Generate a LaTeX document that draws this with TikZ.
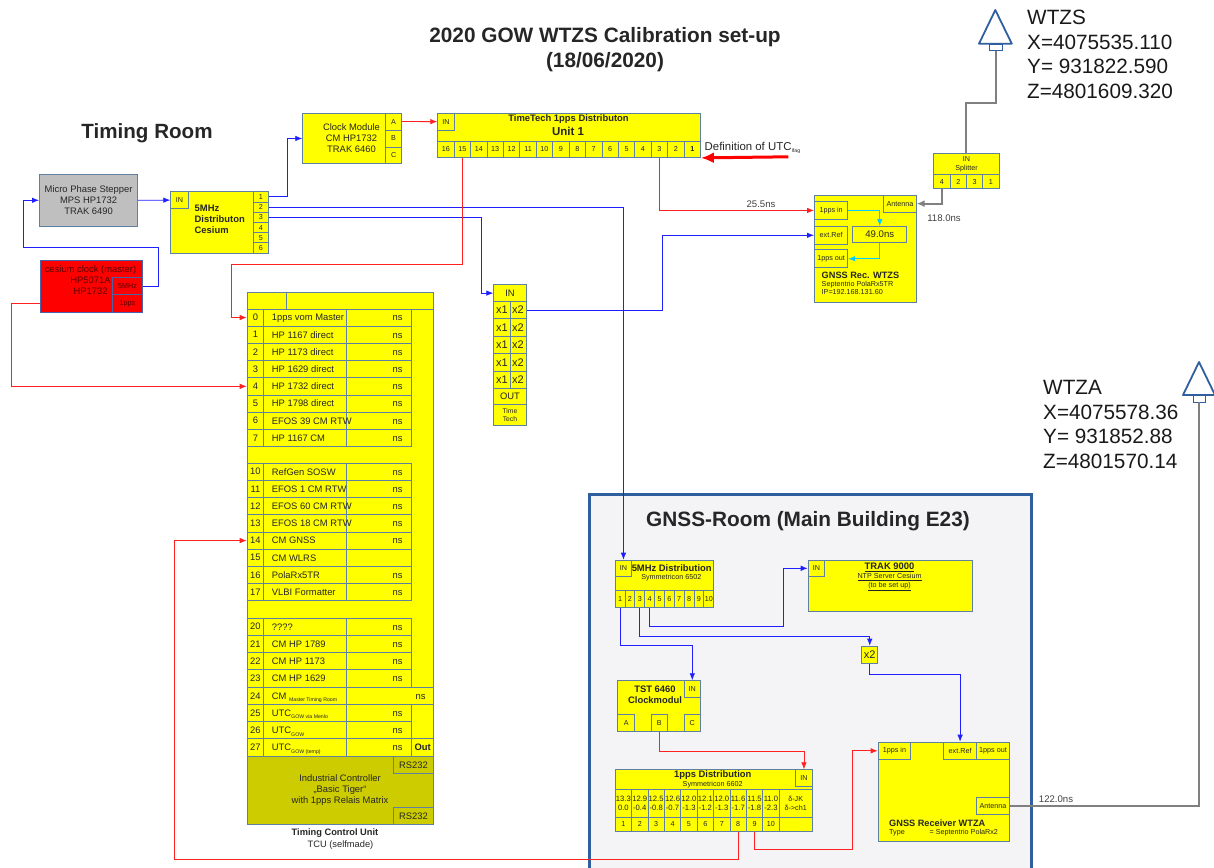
\documentclass[tikz,border=0pt]{standalone}
\usepackage{fontspec}
\setmainfont{Liberation Sans}
\usetikzlibrary{arrows.meta}
\definecolor{edgeblue}{HTML}{5E80A2}
\definecolor{cesedge}{HTML}{4A62A8}
\definecolor{roomblue}{HTML}{2F5F9F}
\definecolor{roomfill}{HTML}{F4F4F7}
\definecolor{ctrlfill}{HTML}{CCCC00}
\definecolor{boxyellow}{HTML}{FFFF00}
\definecolor{lineblue}{HTML}{2020FF}
\definecolor{linered}{HTML}{FF2020}
\definecolor{linegray}{HTML}{808080}
\definecolor{linecyan}{HTML}{00CCFF}
\tikzstyle{block}=[draw=edgeblue, fill=boxyellow, line width=0.9pt, inner sep=0pt, align=center, text=black!85]
\tikzstyle{txt}=[inner sep=0pt, align=center, text=black!85]
\tikzstyle{left txt}=[txt, align=left, anchor=west]
\tikzstyle{row txt}=[text height=7pt, text depth=2pt, yshift=-1.3pt]
\tikzstyle{ft7}=[font=\fontsize{6.8}{8}\selectfont]
\tikzstyle{ft8}=[font=\fontsize{7.2}{8.6}\selectfont]
\tikzstyle{ftval}=[font=\fontsize{7.7}{9.6}\selectfont]
\tikzstyle{ft9}=[font=\fontsize{9.3}{10}\selectfont]
\tikzstyle{ft10}=[font=\fontsize{9.4}{11}\selectfont]
\tikzstyle{ftlag}=[font=\fontsize{9.6}{11}\selectfont]
\tikzstyle{ftx}=[font=\fontsize{11}{12}\selectfont]
\tikzstyle{hd10}=[font=\fontsize{9.4}{11.3}\selectfont\bfseries]
\tikzstyle{coord}=[txt, align=left, anchor=north west, font=\fontsize{20.7}{24.6}\selectfont, text=black!90]
\tikzstyle{bl}=[-{Latex[length=7pt,width=5.5pt]}, lineblue, line width=0.8pt]
\tikzstyle{rd}=[-{Latex[length=7pt,width=5.5pt]}, linered, line width=0.8pt]
\tikzstyle{gy}=[linegray, line width=2pt]
\tikzstyle{cy}=[-{Latex[length=7pt,width=5.5pt]}, linecyan, line width=0.8pt]
\newcommand{\blk}[6][]{\node[block,#1,anchor=north west,minimum width={#4-#2},minimum height={#5-#3}] (#6) at (#2,#3) {};}
\newcommand{\cel}[7][]{\node[block,ft8,#1,anchor=north west,minimum width={#4-#2},minimum height={#5-#3}] (#6) at (#2,#3) {#7};}
\newcommand{\lowtxt}[1]{\raisebox{-2.5pt}{\fontsize{5.2}{6}\selectfont #1}}

\begin{document}
\begin{tikzpicture}[x=1pt,y=-1pt]
  \useasboundingbox (0,0) rectangle (1214,867);
  \draw[roomblue, line width=3pt, fill=roomfill] (589,494) rectangle (1031,890);

  \node[txt, font=\fontsize{20.8}{25}\selectfont\bfseries] (title) at (605,49.5) {2020 GOW WTZS Calibration set-up\\(18/06/2020)};
  \node[txt, font=\fontsize{20.6}{24}\selectfont\bfseries] (timing) at (147,133.5) {Timing Room};
  \node[txt, font=\fontsize{20.8}{24}\selectfont\bfseries] (gnssroom) at (808,521.5) {GNSS-Room (Main Building E23)};

  \cel[fill=black!25,ft10]{39}{174}{137.3}{225.7}{mps}{Micro Phase Stepper\\MPS HP1732\\TRAK 6490}

  \cel[fill=red,draw=cesedge,ft10,text=red!35!black]{39.7}{260}{141.7}{312}{ces}{}
  \node[txt, ft10, text=red!35!black] (cestext) at (90.5,280.5) {cesium clock (master)\\HP5071A\\HP1732};
  \cel[fill=red,draw=cesedge,text=red!35!black]{112.3}{277}{141.7}{294.3}{c5}{5MHz}
  \cel[fill=red,draw=cesedge,text=red!35!black]{112.3}{294.3}{141.7}{312}{c1}{1pps}

  \blk{170.3}{191.3}{268.3}{252.7}{dist}
  \cel{170.3}{191.3}{187.5}{208}{din}{IN}
  \node[left txt, hd10] (disttext) at (194.5,219.5) {5MHz\\Distributon\\Cesium};
  \foreach \i in {1,...,6} {
    \pgfmathsetmacro{\ya}{191.3+(\i-1)*10.23}
    \pgfmathsetmacro{\yb}{\ya+10.23}
    \cel{252.5}{\ya}{268.3}{\yb}{d\i}{\i}
  }

  \blk{302.3}{112.7}{401.3}{163.3}{clk}
  \node[txt, ft10] (clktext) at (351.5,138) {Clock Module\\CM  HP1732\\TRAK 6460};
  \cel{385}{112.7}{401.3}{129.5}{ka}{A}
  \cel{385}{129.5}{401.3}{146.5}{kb}{B}
  \cel{385}{146.5}{401.3}{163.3}{kc}{C}

  \blk{437.3}{112.7}{700}{157}{tt}
  \cel{437.3}{112.7}{453.7}{129.7}{tin}{IN}
  \node[txt, hd10] (tttext) at (568.5,119.5) {TimeTech 1pps Distributon};
  \node[txt, font=\fontsize{11.5}{13}\selectfont\bfseries] (ttunit) at (568,131) {Unit 1};
  \foreach \i in {16,15,...,1} {
    \pgfmathsetmacro{\xa}{437.3+(16-\i)*16.419}
    \pgfmathsetmacro{\xb}{\xa+16.419}
    \cel{\xa}{140.7}{\xb}{157}{t\i}{\ifnum\i=1 \bfseries\fi\i}
  }
  \node[left txt, font=\fontsize{11.4}{13}\selectfont] (defutc) at (704.5,148) {Definition of UTC\lowtxt{Ifag}};
  \coordinate (defend) at (788.3,156.8);
  \draw[-{Latex[length=13pt,width=11pt]}, red, line width=3pt] (defend) -- (tt.south east);

  \blk{246.7}{291.7}{433.3}{755.7}{tcu}
  \blk{246.7}{291.7}{286}{308.5}{tcua}
  \blk{286}{291.7}{433.3}{308.5}{tcub}
  \foreach \y/\i/\t/\v in {308.5/0/1pps vom Master/ns,325.7/1/HP 1167 direct/ns,342.9/2/HP 1173 direct/ns,360.1/3/HP 1629 direct/ns,377.3/4/HP 1732 direct/ns,394.5/5/HP 1798 direct/ns,411.7/6/EFOS 39 CM RTW/ns,428.9/7/HP 1167 CM/ns,
    462.7/10/RefGen SOSW/ns,479.9/11/EFOS 1 CM RTW/ns,497.1/12/EFOS 60 CM RTW/ns,514.3/13/EFOS 18 CM RTW/ns,531.5/14/CM  GNSS/ns,548.7/15/CM  WLRS/,565.9/16/PolaRx5TR/ns,583.1/17/VLBI Formatter/ns,
    617.7/20/????/ns,634.9/21/CM  HP 1789/ns,652.1/22/CM  HP 1173/ns,669.3/23/CM  HP 1629/ns,
    703.9/25/UTC\lowtxt{GOW via Menlo}/ns,721.1/26/UTC\lowtxt{GOW}/ns,738.3/27/UTC\lowtxt{GOW (temp)}/ns} {
    \cel[ft10]{246.7}{\y}{263.3}{\y+17.2}{r\i}{\i}
    \blk{263.3}{\y}{345.7}{\y+17.2}{n\i}
    \blk{345.7}{\y}{411}{\y+17.2}{v\i}
    \node[left txt, row txt, ft10] (l\i) at (271.7,\y+8.6) {\t};
    \node[txt, row txt, ft10] (m\i) at (397.7,\y+8.6) {\v};
  }
  \cel[ft10]{246.7}{686.7}{263.3}{703.9}{r24}{24}
  \blk{263.3}{686.7}{345.7}{703.9}{n24}
  \blk{345.7}{686.7}{433.3}{703.9}{v24}
  \node[left txt, row txt, ft10] (l24) at (271.7,695.3) {CM \lowtxt{Master Timing Room}};
  \node[txt, row txt, ft10] (m24) at (420.5,695.3) {ns};
  \cel[font=\fontsize{9.4}{11}\selectfont\bfseries]{411}{738.3}{433.3}{755.7}{tout}{Out}
  \blk[fill=ctrlfill]{246.7}{755.7}{433.3}{824.3}{ctrl}
  \cel[fill=ctrlfill,ft10]{392.7}{755.7}{433.3}{773.3}{rsa}{RS232}
  \cel[fill=ctrlfill,ft10]{392.7}{806.7}{433.3}{824.3}{rsb}{RS232}
  \node[txt, ft10] (ctrltext) at (340,790) {Industrial Controller\\„Basic Tiger“\\with 1pps Relais Matrix};
  \node[txt, font=\fontsize{9.3}{10}\selectfont\bfseries] (tcutext) at (335,833.5) {Timing Control Unit};
  \node[txt, ft9] (tcusub) at (340.5,845) {TCU (selfmade)};

  \cel[ft10]{493.3}{284.3}{525.7}{301}{xin}{IN}
  \foreach \y/\z [count=\i] in {301/318.3,318.3/336,336/353.3,353.3/370.7,370.7/387.7} {
    \cel[ftx]{493.3}{\y}{509.5}{\z}{xa\i}{x1}
    \cel[ftx]{509.5}{\y}{525.7}{\z}{xb\i}{x2}
  }
  \cel[ft10]{493.3}{387.7}{525.7}{404.3}{xout}{OUT}
  \cel[ft7]{493.3}{404.3}{525.7}{425}{xtt}{Time\\Tech}

  \cel{933.3}{153.3}{998.7}{174}{spl}{IN\\Splitter}
  \foreach \t/\x [count=\i] in {4/933.3,2/949.65,3/966,1/982.35} {
    \cel{\x}{174}{\x+16.35}{188.3}{s\t}{\t}
  }

  \blk{814}{194.7}{915.7}{301.7}{rec}
  \cel{814}{201.3}{847.3}{218.7}{rin}{1pps in}
  \cel{814}{226}{847.3}{243.7}{rext}{ext.Ref}
  \cel{814}{249.3}{847.3}{267.3}{rout}{1pps out}
  \cel{883.3}{194.7}{915.7}{211.7}{rant}{Antenna}
  \cel[ftlag]{852.3}{226}{906.3}{242.3}{rdel}{49.0ns}
  \node[left txt, font=\fontsize{9.2}{11}\selectfont\bfseries] (rectext) at (821.5,275) {GNSS Rec. WTZS};
  \node[left txt, ft8] (recsub) at (821.5,288) {Septentrio PolaRx5TR\\IP=192.168.131.60};

  \draw[line width=1.8pt, fill=white, line join=round, draw=roomblue] (995.3,10) -- (1011.8,43.7) -- (979,43.7) -- cycle;
  \node[draw=roomblue, fill=white, line width=0.5pt, inner sep=0pt, minimum width=12.5, minimum height=6.5, anchor=north] (mast) at (995.6,44) {};
  \node[coord] (wtzs) at (1027,10) {WTZS\\X=4075535.110\\Y= 931822.590\\Z=4801609.320};

  \draw[line width=1.8pt, fill=white, line join=round, draw=roomblue] (1199,362) -- (1215,395) -- (1183,395) -- cycle;
  \node[draw=roomblue, fill=white, line width=0.5pt, inner sep=0pt, minimum width=12.5, minimum height=6.5, anchor=north] (mastb) at (1199,395) {};
  \node[coord] (wtza) at (1043,380) {WTZA\\X=4075578.36\\Y= 931852.88\\Z=4801570.14};

  \blk{614.7}{559.7}{713.3}{607.3}{sd}
  \cel{614.7}{559.7}{631.3}{576.3}{sdin}{IN}
  \node[txt, hd10] (sdtext) at (671.7,568.5) {5MHz Distribution};
  \node[txt, ft8] (sdsub) at (671.3,578) {Symmetricon 6502};
  \foreach \i in {1,...,10} {
    \pgfmathsetmacro{\xa}{614.7+(\i-1)*9.86}
    \pgfmathsetmacro{\xb}{\xa+9.86}
    \cel{\xa}{590}{\xb}{607.3}{e\i}{\i}
  }

  \blk{807.7}{559.7}{972}{610.7}{trak}
  \cel{807.7}{559.7}{824.3}{576}{trin}{IN}
  \node[txt, hd10] (trtext) at (889.5,567) {\underline{TRAK 9000}};
  \node[txt, ft8, font=\fontsize{7.2}{9}\selectfont] (trsub) at (889.5,582) {\underline{NTP Server Cesium}\\\underline{(to be set up)}};

  \cel[ftx]{861.3}{645.7}{877.3}{663}{xtwo}{x2}

  \blk{617.3}{680.3}{700}{731.3}{tst}
  \cel{683.7}{680.3}{700}{696.7}{tsin}{IN}
  \node[txt, hd10] (tsttext) at (655,694.5) {TST 6460\\Clockmodul};
  \cel{617.3}{714.3}{634.3}{731.3}{ta}{A}
  \cel{650.5}{714.3}{667.3}{731.3}{tb}{B}
  \cel{683.7}{714.3}{700}{731.3}{tc}{C}

  \blk{614.7}{769.3}{811.7}{831.3}{pd}
  \cel{795.3}{769.3}{811.7}{786.3}{pdin}{IN}
  \node[txt, hd10] (pdtext) at (712.7,775.5) {1pps Distribution};
  \node[txt, ft8] (pdsub) at (712.7,785) {Symmetricon 6602};
  \foreach \a/\b [count=\i] in {13.3/0.0,12.9/-0.4,12.5/-0.8,12.6/-0.7,12.0/-1.3,12.1/-1.2,12.0/-1.3,11.6/-1.7,11.5/-1.8,11.0/-2.3} {
    \pgfmathsetmacro{\xa}{614.7+(\i-1)*16.4}
    \pgfmathsetmacro{\xb}{\xa+16.4}
    \cel[ftval]{\xa}{789.3}{\xb}{816.7}{g\i}{\a\\\b}
    \cel{\xa}{816.7}{\xb}{831.3}{q\i}{\i}
  }
  \cel{778.7}{789.3}{811.7}{816.7}{gd}{δ-JK\\δ->ch1}
  \cel{778.7}{816.7}{811.7}{831.3}{qd}{}

  \blk{877.7}{741.7}{1009}{841.3}{wza}
  \cel{877.7}{741.7}{910.3}{759}{win}{1pps in}
  \cel{943.3}{741.7}{976}{759}{wext}{ext.Ref}
  \cel{976}{741.7}{1009}{759}{wout}{1pps out}
  \cel{976}{796.7}{1009}{814}{want}{Antenna}
  \node[left txt, font=\fontsize{9.2}{11}\selectfont\bfseries] (wzatext) at (889,823) {GNSS Receiver WTZA};
  \node[left txt, ft8] (wzatype) at (889,832.5) {Type};
  \node[left txt, ft8] (wzasub) at (929.5,832.5) {= Septentrio PolaRx2};

  \node[txt, ftlag, text=black!75] (lagrec) at (761,204) {25.5ns};
  \node[txt, ftlag, text=black!75] (lagant) at (944,218) {118.0ns};
  \node[txt, ftlag, text=black!75] (lagwza) at (1056,799) {122.0ns};

  \draw[bl] (mps.east) -- (din.west);
  \draw[bl] (c5.east) -- ++(16,0) -- ++(0,-39) -- ++(-135,0) |- (mps.west);
  \draw[bl] (d1.east) -- ++(17.7,0) |- (clk.west);
  \draw[bl] (d2.east) -| (sdin.north);
  \draw[bl] (d3.east) -- ++(211.7,0) |- (xin.west);
  \draw[bl] (xb1.east) -- ++(135.3,0) |- (rext.west);
  \draw[bl] (e1.south) -- ++(0,36.7) -| (tsin.north);
  \draw[bl] (e3.south) -- ++(0,28) -| (xtwo.north);
  \draw[bl] (e4.south) -- ++(0,17.7) -- ++(133.3,0) |- (trin.west);
  \draw[bl] (xtwo.south) -- ++(0,10.3) -| (wext.north);
  \draw[rd] (ka.east) -- (tin.west);
  \draw[rd] (t3.south) |- (rin.west);
  \draw[rd] (t15.south) -- ++(0,106.5) -- ++(-231.4,0) |- (r0.west);
  \draw[rd] (c1.west -| ces.west) -- ++(-28.2,0) |- (r4.west);
  \draw[rd] (q8.south) -- ++(0,27) -- ++(-563.7,0) |- (r14.west);
  \draw[rd] (tb.south) -- ++(0,19) -| (pdin.north);
  \draw[rd] (q9.south) -- ++(0,17) -- ++(97.7,0) |- (win.west);
  \draw[cy] (rin.east) -| (rdel.north);
  \draw[cy] (rdel.south) |- (rout.east);
  \draw[gy] (mast.south) -- ++(0,51.5) -| (spl.north);
  \draw[gy, -{Latex[length=8pt,width=7pt]}] (s4.south) |- (rant.east);
  \draw[gy] (want.east) -| (mastb.south);
\end{tikzpicture}
\end{document}
